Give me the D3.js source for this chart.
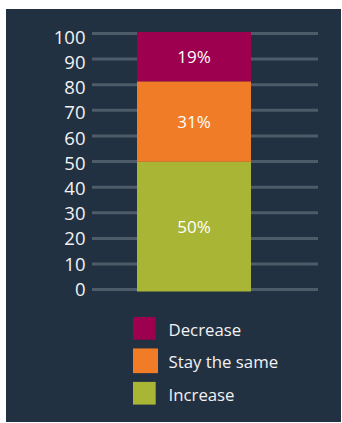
<!DOCTYPE html>
<html>
<head>
<meta charset="utf-8">
<script src="https://cdn.jsdelivr.net/npm/d3@7"></script>
<style>
  html, body { margin: 0; padding: 0; background: #ffffff; }
  svg { display: block; }
  text { font-family: "Open Sans", "Noto Sans", sans-serif; font-weight: 500; }
</style>
</head>
<body>
<div id="chart"></div>
<script>
// Expected change, share of respondents (%)
const categories = ["All respondents"];
const seriesNames = ["Increase", "Stay the same", "Decrease"];
const increaseValues = [50];
const stayValues = [31];
const decreaseValues = [19];
const tickValues = [0, 10, 20, 30, 40, 50, 60, 70, 80, 90, 100];
const legendOrder = ["Decrease", "Stay the same", "Increase"];

const colors = {
  "Increase": "#a9b534",
  "Stay the same": "#f07c28",
  "Decrease": "#9c004e"
};

const width = 342, height = 423;

const svg = d3.select("#chart").append("svg")
  .attr("width", width)
  .attr("height", height);

// dark panel
svg.append("rect")
  .attr("x", 6).attr("y", 9)
  .attr("width", 335).attr("height", 413)
  .attr("fill", "#223142");

const rows = categories.map((c, i) => ({
  category: c,
  "Increase": increaseValues[i],
  "Stay the same": stayValues[i],
  "Decrease": decreaseValues[i]
}));

const stacked = d3.stack().keys(seriesNames)(rows);

// scales
const yGrid = d3.scaleLinear().domain([0, 100]).range([289.6, 33.5]);
const yBar = d3.scaleLinear().domain([0, 100]).range([291.5, 32]);
const yLabel = d3.scaleLinear().domain([0, 100]).range([295.7, 43.7]);
const x = d3.scaleBand().domain(categories).range([137, 251]).padding(0);

// gridlines
svg.append("g")
  .selectAll("line")
  .data(tickValues)
  .join("line")
  .attr("x1", 92).attr("x2", 318)
  .attr("y1", d => yGrid(d)).attr("y2", d => yGrid(d))
  .attr("stroke", "#4e5b69")
  .attr("stroke-width", 3);

// tick labels
svg.append("g")
  .selectAll("text")
  .data(tickValues)
  .join("text")
  .attr("x", 85.5)
  .attr("y", d => yLabel(d))
  .attr("text-anchor", "end")
  .attr("fill", "#f2f2f2")
  .attr("font-size", "18.5px")
  .text(d => d);

// stacked bar
const layers = svg.append("g")
  .selectAll("g")
  .data(stacked)
  .join("g")
  .attr("fill", d => colors[d.key]);

layers.selectAll("rect")
  .data(d => d)
  .join("rect")
  .attr("x", d => x(d.data.category))
  .attr("width", x.bandwidth())
  .attr("y", d => yBar(d[1]))
  .attr("height", d => yBar(d[0]) - yBar(d[1]));

// value labels
const labelData = stacked.map(s => ({ key: s.key, seg: s[0] }));
svg.append("g")
  .selectAll("text")
  .data(labelData)
  .join("text")
  .attr("x", d => x(d.seg.data.category) + x.bandwidth() / 2)
  .attr("y", d => (yBar(d.seg[0]) + yBar(d.seg[1])) / 2)
  .attr("dy", "0.36em")
  .attr("text-anchor", "middle")
  .attr("fill", "#ffffff")
  .attr("font-size", "17px")
  .text(d => (d.seg[1] - d.seg[0]) + "%");

// legend
const legendY = d3.scalePoint().domain(legendOrder).range([328.3, 393.2]);
const legend = svg.append("g")
  .selectAll("g")
  .data(legendOrder)
  .join("g")
  .attr("transform", d => `translate(0,${legendY(d)})`);

legend.append("rect")
  .attr("x", 133)
  .attr("y", d => d === "Stay the same" ? -12.3 : -11.3)
  .attr("width", d => d === "Stay the same" ? 25 : 22.7)
  .attr("height", d => d === "Stay the same" ? 24.7 : 22.7)
  .attr("fill", d => colors[d]);

legend.append("text")
  .attr("x", 168.5)
  .attr("y", 7.5)
  .attr("fill", "#f2f2f2")
  .attr("font-size", "16.8px")
  .text(d => d);
</script>
</body>
</html>
